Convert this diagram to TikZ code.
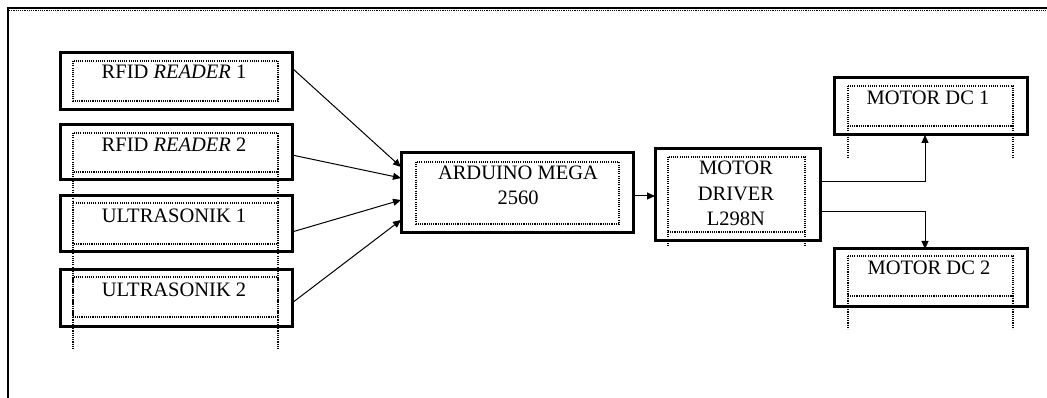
\documentclass[tikz,border=0pt]{standalone}
\usepackage{fontspec}
\setmainfont{Liberation Serif}
\usetikzlibrary{arrows.meta}
\begin{document}
\begin{tikzpicture}[x=1pt,y=-1pt,
  outerbox/.style={draw, line width=3pt, fill=white, inner sep=0pt, outer sep=0pt},
  dotbox/.style={line width=1.1pt, dash pattern=on 1.1pt off 1.1pt},
  lbl/.style={inner sep=0pt, anchor=base, font=\fontsize{20.5}{25}\selectfont},
  conn/.style={line width=1pt, -{Triangle[length=8pt,width=7pt]}}]
\useasboundingbox (0,0) rectangle (1047,398);
% frame
\draw[line width=1.6pt] (8,8) -- (1047,8);
\draw[dotbox] (9,10.8) -- (1047,10.8);
\draw[line width=2pt] (8,7) -- (8,398);
% boxes
\node[outerbox, minimum width=232pt, minimum height=57pt] (r1) at (176,81.5) {};
\node[outerbox, minimum width=232pt, minimum height=55pt] (r2) at (176,152.5) {};
\node[outerbox, minimum width=232pt, minimum height=56pt] (u1) at (176,224) {};
\node[outerbox, minimum width=232pt, minimum height=57pt] (u2) at (176,297.5) {};
\node[outerbox, minimum width=232pt, minimum height=80pt] (ard) at (517,193) {};
\node[outerbox, minimum width=165pt, minimum height=92pt] (drv) at (737.5,195) {};
\node[outerbox, minimum width=193pt, minimum height=57pt] (dc1) at (930.5,106.5) {};
\node[outerbox, minimum width=193pt, minimum height=57pt] (dc2) at (930.5,277.5) {};
% inner dotted rectangles
\draw[dotbox] (73,61) rectangle (278,101);
\draw[dotbox] (73,133) rectangle (278,172);
\draw[dotbox] (73,203) rectangle (278,244);
\draw[dotbox] (73,277) rectangle (278,317);
\draw[dotbox] (416,162) rectangle (619,224);
\draw[dotbox] (668,157) rectangle (805,232);
\draw[dotbox] (848,86) rectangle (1013,126);
\draw[dotbox] (848,256) rectangle (1013,296);
% dotted vertical guides
\draw[dotbox] (73,172) -- (73,350) (278,172) -- (278,350);
\draw[dotbox] (668,232) -- (668,246) (805,232) -- (805,246);
\draw[dotbox] (848,126) -- (848,157) (1013,126) -- (1013,157);
\draw[dotbox] (848,296) -- (848,329) (1013,296) -- (1013,329);
% labels
\node[lbl] (r1t) at (174,79) {RFID \textit{READER} 1};
\node[lbl] (r2t) at (174,152) {RFID \textit{READER} 2};
\node[lbl] (u1t) at (174,223) {ULTRASONIK 1};
\node[lbl] (u2t) at (174,296) {ULTRASONIK 2};
\node[lbl] (ardt1) at (518,180) {ARDUINO MEGA};
\node[lbl] (ardt2) at (518,205) {2560};
\node[lbl] (drvt1) at (736,175) {MOTOR};
\node[lbl] (drvt2) at (736,200.5) {DRIVER};
\node[lbl] (drvt3) at (736,226) {L298N};
\node[lbl] (dc1t) at (928,105) {MOTOR DC 1};
\node[lbl] (dc2t) at (929,275) {MOTOR DC 2};
% connectors
\draw[conn] ([yshift=13.5pt]r1.east) -- ([yshift=26pt]ard.west);
\draw[conn] ([yshift=-2.5pt]r2.east) -- ([yshift=15pt]ard.west);
\draw[conn] ([yshift=-8pt]u1.east) -- ([yshift=-7pt]ard.west);
\draw[conn] ([yshift=-5.5pt]u2.east) -- ([yshift=-27pt]ard.west);
\draw[conn] ([yshift=-3pt]ard.east) -- ([yshift=-3pt]ard.east -| drv.west);
\draw[conn] ([yshift=13pt]drv.east) -| ([xshift=-5.5pt]dc1.south);
\draw[conn] ([yshift=-17pt]drv.east) -| ([xshift=-5.5pt]dc2.north);
\end{tikzpicture}
\end{document}
